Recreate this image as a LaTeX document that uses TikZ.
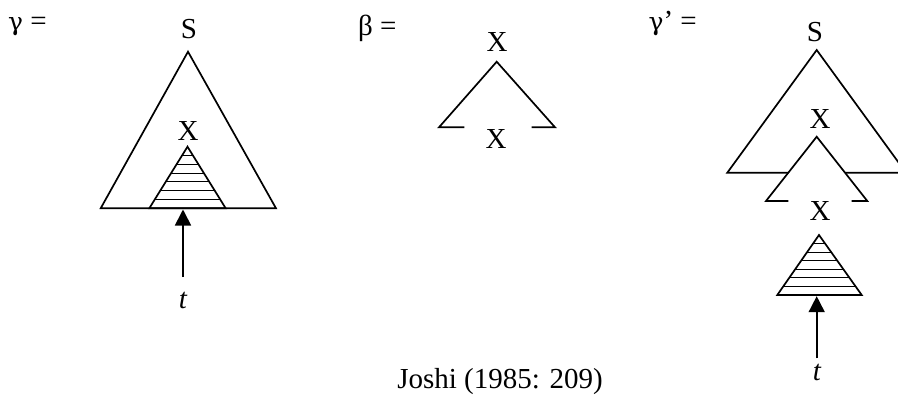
\documentclass[tikz,border=0pt]{standalone}
\usepackage{fontspec}
\setmainfont{Liberation Serif}
\newfontfamily\greekfont{DejaVu Serif}
\usetikzlibrary{arrows.meta,calc}

\begin{document}
\begin{tikzpicture}[x=1pt,y=-1pt,
  lbl/.style={inner sep=0pt,font=\fontsize{29}{34}\selectfont},
  tri/.style={line width=1.7pt,line join=miter},
  hatch/.style={line width=1.1pt},
  ptr/.style={line width=1.7pt,-{Triangle[width=16pt,length=16pt]}}]
\path[use as bounding box] (0,0) rectangle (898,399);
% gamma
\node[lbl,anchor=base west] (gname) at (8,30) {{\greekfont\fontsize{25}{30}\selectfont γ} =};
\node[lbl,anchor=base] (gS) at (189,38) {S};
\coordinate (gtop) at (188,51.7);
\coordinate (gbl) at (100.7,208.3);
\coordinate (gbr) at (276,208.3);
\draw[tri] (gtop) -- (gbl) -- (gbr) -- cycle;
\node[lbl,anchor=base] (gX) at (188,140) {X};
\coordinate (gha) at (187.5,146.7);
\coordinate (ghl) at (149.3,208.3);
\coordinate (ghr) at (225.7,208.3);
\draw[tri] (gha) -- (ghl) -- (ghr) -- cycle;
\foreach \k in {1,...,6}
  \draw[hatch] ($(ghl)!\k/7!(gha)$) -- ($(ghr)!\k/7!(gha)$);
\coordinate (gfoot) at (183,277);
\coordinate (gtip) at (183,209.5);
\draw[ptr] (gfoot) -- (gtip);
\node[lbl,anchor=base] (gt) at (183,308) {\itshape t};
% beta
\node[lbl,anchor=base west] (bname) at (358,35) {β =};
\node[lbl,anchor=base] (bX) at (497,51.7) {X};
\coordinate (btop) at (496.7,61.7);
\coordinate (bl) at (439,127.3);
\coordinate (bls) at (464.3,127.3);
\coordinate (brs) at (531.7,127.3);
\coordinate (br) at (555,127.3);
\draw[tri] (bls) -- (bl) -- (btop) -- (br) -- (brs);
\node[lbl,anchor=base] (bfoot) at (496,148) {X};
% gamma'
\node[lbl,anchor=base east] (pname) at (697,30) {{\greekfont\fontsize{25}{30}\selectfont γ}’ =};
\node[lbl,anchor=base] (pS) at (815,41.5) {S};
\coordinate (ptop) at (816.7,50);
\coordinate (pbl) at (727.3,172.7);
\coordinate (pbr) at (906,172.7);
\begin{scope}
  \clip (0,0) rectangle (898,399);
  \draw[tri] (ptop) -- (pbl) -- (pbr) -- cycle;
\end{scope}
\node[lbl,anchor=base] (pX) at (820,128.5) {X};
\coordinate (pitop) at (816.7,136.7);
\coordinate (pil) at (766,201);
\coordinate (pils) at (788.3,201);
\coordinate (pirs) at (851.7,201);
\coordinate (pir) at (867.3,201);
\fill[white] (pitop) -- (pil) -- (pir) -- cycle;
\draw[tri] (pils) -- (pil) -- (pitop) -- (pir) -- (pirs);
\node[lbl,anchor=base] (pfootX) at (820,220) {X};
\coordinate (pha) at (819,235);
\coordinate (phl) at (777.3,295);
\coordinate (phr) at (861.7,295);
\draw[tri] (pha) -- (phl) -- (phr) -- cycle;
\foreach \k in {1,...,6}
  \draw[hatch] ($(phl)!\k/7!(pha)$) -- ($(phr)!\k/7!(pha)$);
\coordinate (pfoot) at (816.7,358.3);
\coordinate (ptip) at (816.7,296.2);
\draw[ptr] (pfoot) -- (ptip);
\node[lbl,anchor=base] (pt) at (817,380) {\itshape t};
% source
\node[lbl,anchor=base] (src) at (500,388) {Joshi (1985: 209)};
\end{tikzpicture}
\end{document}
